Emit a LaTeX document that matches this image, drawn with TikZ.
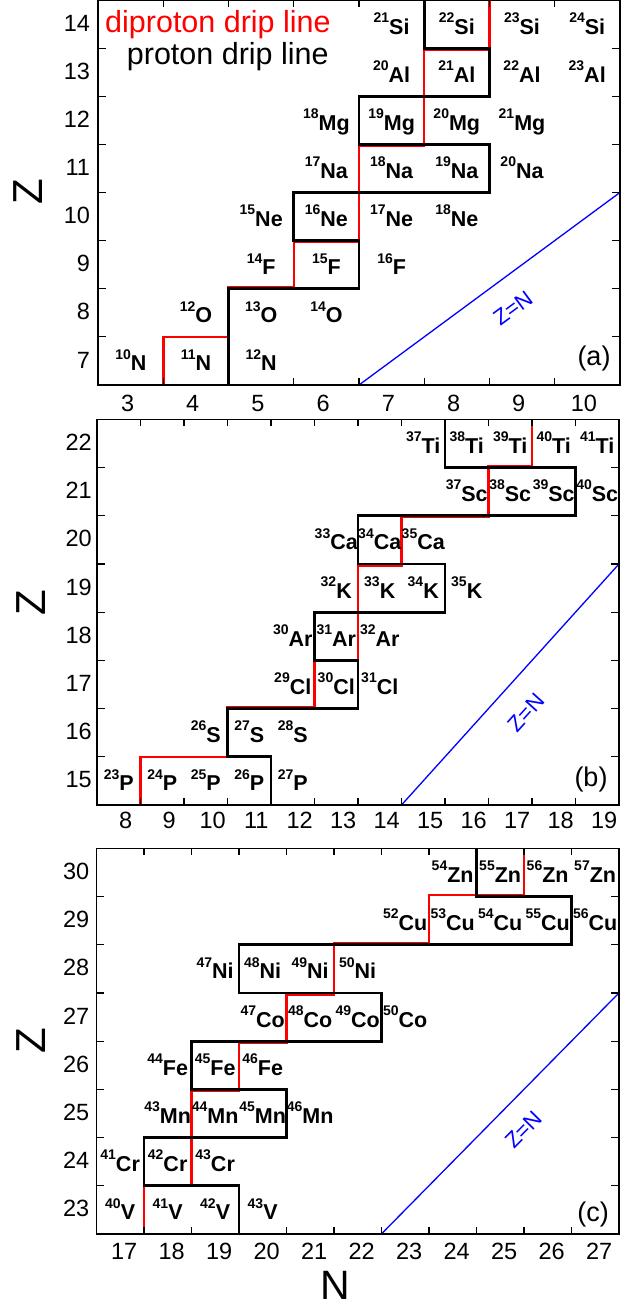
\documentclass[tikz,border=0pt]{standalone}
\usepackage{fontspec}
\setmainfont{Liberation Sans}
\definecolor{dripred}{RGB}{255,0,0}
\definecolor{znblue}{RGB}{0,0,255}
\newcommand\isotxt[2]{{\fontsize{14}{14}\selectfont\raisebox{11.7pt}{#1}}{\fontsize{21.5}{21.5}\selectfont #2}}
\tikzset{
  frameline/.style={line width=1.5pt},
  tickline/.style={line width=1.2pt},
  pdrip/.style={line width=2.7pt, line join=miter},
  dpdrip/.style={line width=2.4pt, dripred, line join=miter},
  znline/.style={line width=1.3pt, znblue},
  znlab/.style={znblue, font=\fontsize{22}{22}\selectfont, inner sep=0pt},
  ticklab/.style={font=\fontsize{23.5}{23.5}\selectfont, inner sep=0pt},
  iso/.style={anchor=base, yshift=-10pt, inner sep=0pt, font=\bfseries},
  axtitle/.style={font=\fontsize{42}{42}\selectfont, inner sep=0pt},
  paneltag/.style={font=\fontsize{27}{27}\selectfont, inner sep=0pt},
  legendtxt/.style={font=\fontsize{30.5}{30.5}\selectfont, inner sep=0pt, anchor=base west}
}
\begin{document}
\begin{tikzpicture}[x=1pt,y=1pt]
\useasboundingbox (0,0) rectangle (621,1310);
\fill[white] (0,0) rectangle (621,1310);

% ---------------- panel (a)
\begin{scope}[x=65.2pt,y=48.1pt,shift={(-64.8pt,612.35pt)}]
  \draw[znline] (6.5,6.5) -- (10.5,10.5);
  \node[znlab, rotate=36.4] (zna) at (8.86,8.1) {Z=N};
  \draw[dpdrip] (3.5,6.5)--(3.5,7.5)--(4.5,7.5)--(4.5,8.531)--(5.5,8.531)--(5.5,9.469)--(6.5,9.469)--(6.5,11.469)--(7.5,11.469)--(7.5,13.469)--(8.5,13.469)--(8.5,14.5);
  \draw[pdrip] (4.5,6.5)--(4.5,8.5)--(6.5,8.5)--(6.5,9.5)--(5.5,9.5)--(5.5,10.5)--(8.5,10.5)--(8.5,11.5)--(6.5,11.5)--(6.5,12.5)--(8.5,12.5)--(8.5,13.5)--(7.5,13.5)--(7.5,14.5);
  \foreach \x in {3.5,4.5,...,9.5} {
    \draw[tickline] (\x,6.5) -- ++(0,7pt);
    \draw[tickline] (\x,14.5) -- ++(0,-7pt);
  }
  \foreach \z in {7.5,8.5,...,13.5} {
    \draw[tickline] (2.5,\z) -- ++(8pt,0);
    \draw[tickline] (10.5,\z) -- ++(-8pt,0);
  }
  \draw[frameline] (2.5,6.5) rectangle (10.5,14.5);
  \foreach \x in {3,...,10} \node[ticklab, yshift=-18.3pt] (ax\x) at (\x-0.05,6.5) {\x};
  \foreach \z in {7,...,14} \node[ticklab, anchor=east, xshift=-8pt, yshift=1pt] (ay\z) at (2.5,\z) {\z};
  \foreach \nn/\zz/\aa/\el in {3/7/10/N, 4/7/11/N, 5/7/12/N,
      4/8/12/O, 5/8/13/O, 6/8/14/O,
      5/9/14/F, 6/9/15/F, 7/9/16/F,
      5/10/15/Ne, 6/10/16/Ne, 7/10/17/Ne, 8/10/18/Ne,
      6/11/17/Na, 7/11/18/Na, 8/11/19/Na, 9/11/20/Na,
      6/12/18/Mg, 7/12/19/Mg, 8/12/20/Mg, 9/12/21/Mg,
      7/13/20/Al, 8/13/21/Al, 9/13/22/Al, 10/13/23/Al,
      7/14/21/Si, 8/14/22/Si, 9/14/23/Si, 10/14/24/Si}
    \node[iso] (a\aa\el) at (\nn,\zz) {\isotxt{\aa}{\el}};
\end{scope}

% ---------------- panel (b)
\begin{scope}[x=43.5pt,y=48.2pt,shift={(-229.25pt,-193.9pt)}]
  \draw[znline] (14.5,14.5) -- (19.5,19.5);
  \node[znlab, rotate=47.9] (znb) at (17.37,16.42) {Z=N};
  \draw[dpdrip] (8.5,14.5)--(8.5,15.5)--(10.5,15.5)--(10.5,16.531)--(12.5,16.531)--(12.5,17.5)--(13.5,17.5)--(13.5,19.469)--(14.5,19.469)--(14.5,20.469)--(16.5,20.469)--(16.5,21.531)--(17.5,21.531)--(17.5,22.5);
  \draw[pdrip] (11.5,14.5)--(11.5,15.5)--(10.5,15.5)--(10.5,16.5)--(13.5,16.5)--(13.5,17.5)--(12.5,17.5)--(12.5,18.5)--(15.5,18.5)--(15.5,19.5)--(13.5,19.5)--(13.5,20.5)--(18.5,20.5)--(18.5,21.5)--(15.5,21.5)--(15.5,22.5);
  \foreach \x in {8.5,9.5,...,18.5} {
    \draw[tickline] (\x,14.5) -- ++(0,7pt);
    \draw[tickline] (\x,22.5) -- ++(0,-7pt);
  }
  \foreach \z in {15.5,16.5,...,21.5} {
    \draw[tickline] (7.5,\z) -- ++(8pt,0);
    \draw[tickline] (19.5,\z) -- ++(-8pt,0);
  }
  \draw[frameline] (7.5,14.5) rectangle (19.5,22.5);
  \foreach \x in {8,...,19} \node[ticklab, yshift=-15.3pt] (bx\x) at (\x+0.16,14.5) {\x};
  \foreach \z in {15,...,22} \node[ticklab, anchor=east, xshift=-5pt, yshift=1pt] (by\z) at (7.5,\z) {\z};
  \foreach \nn/\zz/\aa/\el in {8/15/23/P, 9/15/24/P, 10/15/25/P, 11/15/26/P, 12/15/27/P,
      10/16/26/S, 11/16/27/S, 12/16/28/S,
      12/17/29/Cl, 13/17/30/Cl, 14/17/31/Cl,
      12/18/30/Ar, 13/18/31/Ar, 14/18/32/Ar,
      13/19/32/K, 14/19/33/K, 15/19/34/K, 16/19/35/K,
      13/20/33/Ca, 14/20/34/Ca, 15/20/35/Ca,
      16/21/37/Sc, 17/21/38/Sc, 18/21/39/Sc, 19/21/40/Sc,
      15/22/37/Ti, 16/22/38/Ti, 17/22/39/Ti, 18/22/40/Ti, 19/22/41/Ti}
    \node[iso] (b\aa\el) at (\nn,\zz) {\isotxt{\aa}{\el}};
\end{scope}

% ---------------- panel (c)
\begin{scope}[x=47.5pt,y=48.2pt,shift={(-687.35pt,-1008.5pt)}]
  \draw[znline] (22.5,22.5) -- (27.5,27.5);
  \node[znlab, rotate=45.4] (znc) at (25.5,24.67) {Z=N};
  \draw[dpdrip] (17.5,22.5)--(17.5,23.5)--(18.5,23.5)--(18.5,25.469)--(19.5,25.469)--(19.5,26.469)--(20.5,26.469)--(20.5,27.469)--(21.5,27.469)--(21.5,28.531)--(23.5,28.531)--(23.5,29.531)--(25.5,29.531)--(25.5,30.5);
  \draw[pdrip] (19.5,22.5)--(19.5,23.5)--(17.5,23.5)--(17.5,24.5)--(20.5,24.5)--(20.5,25.5)--(18.5,25.5)--(18.5,26.5)--(22.5,26.5)--(22.5,27.5)--(19.5,27.5)--(19.5,28.5)--(26.5,28.5)--(26.5,29.5)--(24.5,29.5)--(24.5,30.5);
  \foreach \x in {17.5,18.5,...,26.5} {
    \draw[tickline] (\x,22.5) -- ++(0,7pt);
    \draw[tickline] (\x,30.5) -- ++(0,-7pt);
  }
  \foreach \z in {23.5,24.5,...,29.5} {
    \draw[tickline] (16.5,\z) -- ++(8pt,0);
    \draw[tickline] (27.5,\z) -- ++(-8pt,0);
  }
  \draw[frameline] (16.5,22.5) rectangle (27.5,30.5);
  \foreach \x in {17,...,27} \node[ticklab, yshift=-17.7pt] (cx\x) at (\x+0.085,22.5) {\x};
  \foreach \z in {23,...,30} \node[ticklab, anchor=east, xshift=-7pt, yshift=1pt] (cy\z) at (16.5,\z) {\z};
  \foreach \nn/\zz/\aa/\el in {17/23/40/V, 18/23/41/V, 19/23/42/V, 20/23/43/V,
      17/24/41/Cr, 18/24/42/Cr, 19/24/43/Cr,
      18/25/43/Mn, 19/25/44/Mn, 20/25/45/Mn, 21/25/46/Mn,
      18/26/44/Fe, 19/26/45/Fe, 20/26/46/Fe,
      20/27/47/Co, 21/27/48/Co, 22/27/49/Co, 23/27/50/Co,
      19/28/47/Ni, 20/28/48/Ni, 21/28/49/Ni, 22/28/50/Ni,
      23/29/52/Cu, 24/29/53/Cu, 25/29/54/Cu, 26/29/55/Cu, 27/29/56/Cu,
      24/30/54/Zn, 25/30/55/Zn, 26/30/56/Zn, 27/30/57/Zn}
    \node[iso] (c\aa\el) at (\nn,\zz) {\isotxt{\aa}{\el}};
\end{scope}

% ---------------- titles, legend, tags
\node[axtitle, rotate=90] (ztitleA) at (28.5,1118) {Z};
\node[axtitle, rotate=90] (ztitleB) at (30.7,707.5) {Z};
\node[axtitle, rotate=90] (ztitleC) at (30.7,269) {Z};
\node[axtitle, font=\fontsize{41}{41}\selectfont] (ntitle) at (335.5,25) {N};
\node[paneltag] (taga) at (594,951) {(a)};
\node[paneltag] (tagb) at (591,530) {(b)};
\node[paneltag] (tagc) at (593,95) {(c)};
\node[legendtxt, text=dripred] (leg1) at (105,1277) {diproton drip line};
\node[legendtxt] (leg2) at (126.7,1245) {proton drip line};
\end{tikzpicture}
\end{document}
